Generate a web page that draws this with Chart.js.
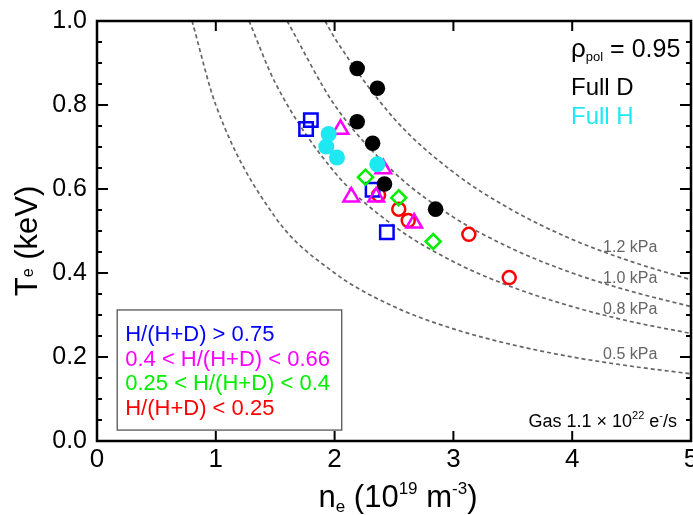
<!DOCTYPE html>
<html lang="en">
<head>
<meta charset="UTF-8">
<title>Te vs ne</title>
<script src="https://cdn.jsdelivr.net/npm/chart.js"></script>
<style>
  body { margin: 0; background: #fff; }
  #chart { display: block; }
</style>
</head>
<body>
<canvas id="chart" width="693" height="515"></canvas>
<script>
// values: n_e in 10^19 m^-3, T_e in keV
const fullD_n = [2.19, 2.36, 2.19, 2.32, 2.42, 2.85];
const fullD_T = [0.887, 0.840, 0.760, 0.709, 0.612, 0.552];

const fullH_n = [1.95, 1.93, 2.02, 2.36];
const fullH_T = [0.731, 0.701, 0.675, 0.659];

const hHigh_n = [1.80, 1.76, 2.32, 2.44];          // H/(H+D) > 0.75
const hHigh_T = [0.764, 0.743, 0.598, 0.497];

const hMid_n = [2.05, 2.41, 2.14, 2.35, 2.67];     // 0.4 < H/(H+D) < 0.66
const hMid_T = [0.742, 0.648, 0.581, 0.581, 0.519];

const hLow_n = [2.26, 2.54, 2.83];                 // 0.25 < H/(H+D) < 0.4
const hLow_T = [0.628, 0.579, 0.475];

const hMin_n = [2.37, 2.54, 2.62, 3.13, 3.47];     // H/(H+D) < 0.25
const hMin_T = [0.586, 0.552, 0.525, 0.492, 0.389];

// isobars, points
const p05_n = [0.80, 1.0, 1.5, 2.0, 2.5, 3.0, 3.5, 4.0, 4.5, 5.0];
const p05_T = [1.00, 0.80, 0.533, 0.40, 0.32, 0.267, 0.229, 0.20, 0.178, 0.16];
const p08_n = [1.28, 1.5, 2.0, 2.5, 3.0, 3.5, 4.0, 4.5, 5.0];
const p08_T = [1.00, 0.853, 0.64, 0.512, 0.427, 0.366, 0.32, 0.284, 0.256];
const p10_n = [1.60, 2.0, 2.5, 3.0, 3.5, 4.0, 4.5, 5.0];
const p10_T = [1.00, 0.80, 0.64, 0.533, 0.457, 0.40, 0.356, 0.32];
const p12_n = [1.92, 2.0, 2.5, 3.0, 3.5, 4.0, 4.5, 5.0];
const p12_T = [1.00, 0.96, 0.768, 0.64, 0.549, 0.48, 0.427, 0.384];

const isobarLabels = ['1.2 kPa', '1.0 kPa', '0.8 kPa', '0.5 kPa'];
const xTicks = [0, 1, 2, 3, 4, 5];
const yTicks = [0, 0.2, 0.4, 0.6, 0.8, 1.0];

const legendLabels = ['H/(H+D) > 0.75', '0.4 < H/(H+D) < 0.66', '0.25 < H/(H+D) < 0.4', 'H/(H+D) < 0.25'];
const legendColors = ['#0000ff', '#ff00ff', '#00ee00', '#ff0000'];

const FONT = '"Liberation Sans", Arial, sans-serif';
const CYAN = '#1ee8f2';

const toPts = (xs, ys) => xs.map((v, i) => ({ x: v, y: ys[i] }));

function marks(n, T, style, color, radius, open) {
    return {
        data: toPts(n, T),
        pointStyle: style,
        pointRadius: radius,
        pointHoverRadius: radius,
        backgroundColor: open ? 'rgba(0,0,0,0)' : color,
        borderColor: color,
        borderWidth: open ? 2.5 : 0
    };
}

function isobar(n, T) {
    return {
        data: toPts(n, T),
        showLine: true,
        pointRadius: 0,
        borderColor: '#666666',
        borderWidth: 1.7,
        borderDash: [4, 3],
        cubicInterpolationMode: 'monotone',
        fill: false
    };
}

// dataset 0 is drawn last (on top)
const datasets = [
    marks(fullD_n, fullD_T, 'circle', '#000000', 7.8, false),
    marks(fullH_n, fullH_T, 'circle', CYAN, 8, false),
    marks(hMid_n, hMid_T, 'triangle', '#ff00ff', 9, true),
    marks(hLow_n, hLow_T, 'rectRot', '#00ee00', 7.5, true),
    marks(hHigh_n, hHigh_T, 'rect', '#0000ff', 9.5, true),
    marks(hMin_n, hMin_T, 'circle', '#ff0000', 6.5, true),
    isobar(p12_n, p12_T),
    isobar(p10_n, p10_T),
    isobar(p08_n, p08_T),
    isobar(p05_n, p05_T)
];

// draws a run of text pieces with sub/superscripts
function richText(ctx, parts, x, y, align) {
    let w = 0;
    parts.forEach(p => { ctx.font = p.size + 'px ' + FONT; w += ctx.measureText(p.t).width; });
    let cx = align === 'right' ? x - w : align === 'center' ? x - w / 2 : x;
    ctx.textAlign = 'left';
    ctx.textBaseline = 'alphabetic';
    parts.forEach(p => {
        ctx.font = p.size + 'px ' + FONT;
        ctx.fillText(p.t, cx, y + (p.dy || 0));
        cx += ctx.measureText(p.t).width;
    });
}

const framePlugin = {
    id: 'frame',
    afterDraw(chart) {
        const { ctx, chartArea: a, scales: { x, y } } = chart;
        ctx.save();
        const seg = (x1, y1, x2, y2) => { ctx.beginPath(); ctx.moveTo(x1, y1); ctx.lineTo(x2, y2); ctx.stroke(); };

        // frame and inward ticks
        ctx.strokeStyle = '#000';
        ctx.lineWidth = 2.5;
        ctx.strokeRect(a.left, a.top, a.right - a.left, a.bottom - a.top);
        ctx.lineWidth = 2;
        xTicks.forEach(v => {
            const px = x.getPixelForValue(v);
            seg(px, a.bottom, px, a.bottom - 10);
            seg(px, a.top, px, a.top + 10);
        });
        for (let i = 0; i <= 20; i++) {
            const py = y.getPixelForValue(i * 0.05);
            const len = i % 4 === 0 ? 11 : 5;
            seg(a.left, py, a.left + len, py);
            seg(a.right, py, a.right - len, py);
        }

        // isobar labels
        ctx.fillStyle = '#666666';
        ctx.font = '16px ' + FONT;
        const labT = [0.45, 0.376, 0.302, 0.195];
        isobarLabels.forEach((t, i) => {
            ctx.textAlign = 'left';
            ctx.textBaseline = 'alphabetic';
            ctx.fillText(t, x.getPixelForValue(4.26), y.getPixelForValue(labT[i]));
        });

        // top right annotations
        ctx.fillStyle = '#000';
        const tx = x.getPixelForValue(3.99);
        richText(ctx, [
            { t: 'ρ', size: 26 },
            { t: 'pol', size: 13, dy: 4 },
            { t: ' = 0.95', size: 25 }
        ], tx, y.getPixelForValue(0.914), 'left');
        ctx.font = '24px ' + FONT;
        ctx.fillText('Full D', tx, y.getPixelForValue(0.824));
        ctx.fillStyle = CYAN;
        ctx.fillText('Full H', tx, y.getPixelForValue(0.755));

        ctx.fillStyle = '#000';
        richText(ctx, [
            { t: 'Gas 1.1 × 10', size: 18 },
            { t: '22', size: 11, dy: -8 },
            { t: ' e', size: 18 },
            { t: '-', size: 11, dy: -8 },
            { t: '/s', size: 18 }
        ], a.right - 14, a.bottom - 14, 'right');

        // composition legend
        const bx = x.getPixelForValue(0.17), by = y.getPixelForValue(0.312);
        const bx2 = x.getPixelForValue(2.06), by2 = y.getPixelForValue(0.026);
        ctx.strokeStyle = '#555';
        ctx.lineWidth = 1.3;
        ctx.strokeRect(bx, by, bx2 - bx, by2 - by);
        ctx.font = '22px ' + FONT;
        ctx.textBaseline = 'middle';
        ctx.textAlign = 'left';
        legendLabels.forEach((t, i) => {
            ctx.fillStyle = legendColors[i];
            ctx.fillText(t, bx + 8, by + 25 + i * 24.7);
        });

        // axis titles
        ctx.fillStyle = '#000';
        richText(ctx, [
            { t: 'n', size: 31 },
            { t: 'e', size: 17, dy: 5 },
            { t: ' (10', size: 31 },
            { t: '19', size: 17, dy: -13 },
            { t: ' m', size: 31 },
            { t: '-3', size: 17, dy: -13 },
            { t: ')', size: 31 }
        ], (a.left + a.right) / 2 + 4, 507, 'center');

        ctx.translate(37, 241);
        ctx.rotate(-Math.PI / 2);
        richText(ctx, [
            { t: 'T', size: 31 },
            { t: 'e', size: 16, dy: -4 },
            { t: ' (keV)', size: 31 }
        ], 0, 0, 'center');
        ctx.restore();
    }
};

new Chart(document.getElementById('chart').getContext('2d'), {
    type: 'scatter',
    data: { datasets: datasets },
    options: {
        responsive: false,
        animation: false,
        events: [],
        layout: { autoPadding: false, padding: { top: 21, right: 2, left: 0, bottom: 0 } },
        plugins: { legend: { display: false }, tooltip: { enabled: false } },
        scales: {
            x: {
                type: 'linear', min: 0, max: 5,
                afterBuildTicks: s => { s.ticks = xTicks.map(v => ({ value: v })); },
                ticks: { color: '#000', font: { family: FONT, size: 26 }, padding: 3, maxRotation: 0 },
                grid: { display: false, drawTicks: false },
                border: { display: false },
                afterFit: s => { s.height = 74; s.paddingLeft = 0; s.paddingRight = 0; }
            },
            y: {
                type: 'linear', min: 0, max: 1,
                afterBuildTicks: s => { s.ticks = yTicks.map(v => ({ value: v })); },
                ticks: { color: '#000', font: { family: FONT, size: 25 }, padding: 10, callback: v => v.toFixed(1) },
                grid: { display: false, drawTicks: false },
                border: { display: false },
                afterFit: s => { s.width = 97; s.paddingTop = 0; s.paddingBottom = 0; }
            }
        }
    },
    plugins: [framePlugin]
});
</script>
</body>
</html>
